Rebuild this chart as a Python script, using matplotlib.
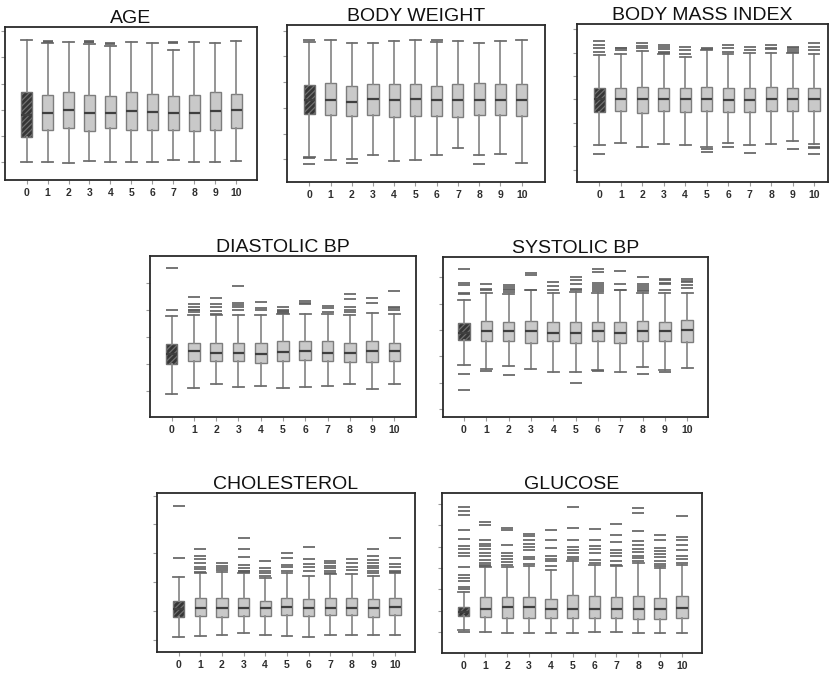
import matplotlib
matplotlib.use("Agg")
import matplotlib.pyplot as plt

plt.rcParams["font.family"] = ["Liberation Sans", "DejaVu Sans"]
plt.rcParams["hatch.linewidth"] = 0.9

GROUPS = [str(i) for i in range(11)]

# ---- AGE (years) ----
AGE_LO = [20.0, 20.3, 19.9, 20.6, 20.3, 20.3, 20.3, 20.9, 20.3, 20.3, 20.5]
AGE_Q1 = [29.5, 32.5, 32.9, 31.9, 32.9, 32.5, 32.3, 32.5, 31.9, 32.5, 32.9]
AGE_MED = [38.0, 38.9, 39.9, 38.9, 38.9, 39.6, 39.2, 38.9, 38.9, 39.6, 39.9]
AGE_Q3 = [46.8, 45.8, 46.8, 45.6, 45.3, 46.8, 46.2, 45.2, 45.8, 46.6, 46.2]
AGE_HI = [66.5, 65.6, 65.8, 65.2, 64.2, 65.8, 65.4, 62.9, 65.8, 65.4, 66.2]
AGE_OUT = [[], [65.9, 66.1], [], [65.7, 65.9, 66.1], [64.9, 65.6], [], [],
           [65.6, 65.8], [], [], []]

# ---- BODY WEIGHT (kg) ----
BW_LO = [50.9, 49.6, 50.3, 51.8, 49.2, 49.6, 51.6, 54.4, 51.6, 52.2, 48.7]
BW_Q1 = [67.8, 67.4, 66.9, 67.4, 66.5, 66.9, 66.9, 66.5, 67.4, 67.4, 66.9]
BW_MED = [73.0, 73.2, 72.3, 73.4, 73.0, 73.6, 73.0, 73.0, 73.0, 73.0, 73.0]
BW_Q3 = [78.8, 79.5, 78.6, 79.2, 79.2, 79.1, 78.6, 79.1, 79.5, 79.2, 79.2]
BW_HI = [95.7, 96.4, 95.3, 95.1, 96.1, 96.4, 95.7, 96.1, 95.3, 96.1, 96.4]
BW_OUT = [[96.2, 50.5, 48.3], [], [48.6], [], [], [], [96.4], [], [48.3], [], []]

# ---- BODY MASS INDEX ----
BMI_LO = [20.2, 20.8, 19.9, 20.6, 20.2, 19.9, 20.7, 20.2, 20.6, 21.1, 20.4]
BMI_Q1 = [27.4, 27.5, 27.1, 27.5, 27.4, 27.5, 27.4, 27.4, 27.5, 27.5, 27.5]
BMI_MED = [30.1, 30.1, 30.0, 30.0, 30.0, 30.1, 29.9, 29.9, 30.0, 30.0, 30.1]
BMI_Q3 = [32.4, 32.4, 32.6, 32.4, 32.4, 32.6, 32.4, 32.4, 32.6, 32.4, 32.4]
BMI_HI = [39.5, 39.6, 40.4, 39.6, 39.1, 40.6, 39.6, 39.9, 39.9, 39.9, 39.7]
BMI_OUT = [[40.2, 40.9, 41.6, 42.4, 18.4],
           [40.6, 40.9, 41.0],
           [40.9, 41.5, 42.0],
           [40.0, 40.2, 40.7, 41.3, 41.6],
           [39.8, 40.6, 41.3],
           [40.7, 40.9, 19.4, 18.8],
           [40.2, 40.9, 41.6, 19.9],
           [40.6, 41.3, 18.6],
           [40.7, 40.9, 41.6],
           [40.2, 40.6, 40.9, 41.3, 19.5],
           [40.6, 41.1, 42.0, 19.9, 19.6, 18.4]]

# ---- DIASTOLIC BP (mmHg) ----
DBP_LO = [49.0, 51.2, 52.7, 51.5, 51.9, 51.2, 51.5, 51.9, 52.7, 50.6, 52.7]
DBP_Q1 = [59.9, 61.0, 61.0, 61.0, 60.4, 61.0, 61.4, 61.0, 60.7, 60.7, 61.0]
DBP_MED = [63.8, 64.7, 64.2, 64.2, 63.6, 64.4, 64.7, 64.1, 64.2, 64.8, 64.8]
DBP_Q3 = [67.5, 67.9, 67.8, 67.9, 67.8, 68.4, 68.4, 68.4, 67.8, 68.4, 67.9]
DBP_HI = [77.8, 78.0, 78.0, 78.0, 78.0, 78.6, 78.6, 78.6, 78.0, 79.0, 78.3]
DBP_OUT = [[80.1, 95.3],
           [79.3, 79.9, 80.1, 80.9, 82.1, 84.6],
           [78.6, 79.6, 80.9, 82.3, 84.2],
           [79.9, 80.9, 81.7, 82.6, 88.8],
           [80.1, 80.6, 83.0],
           [78.9, 79.1, 79.4, 79.6, 80.1, 80.9],
           [82.1, 82.7, 83.3],
           [79.3, 80.5, 81.5],
           [79.3, 80.1, 80.9, 84.0, 86.0],
           [82.7, 84.2],
           [79.9, 80.5, 81.1, 86.9]]

# ---- SYSTOLIC BP (mmHg) ----
SBP_LO = [113.2, 110.6, 112.4, 110.6, 108.1, 108.1, 109.4, 108.1, 111.9, 109.9, 111.4]
SBP_Q1 = [132.2, 131.6, 131.6, 130.4, 131.6, 130.4, 131.4, 130.1, 131.4, 131.6, 130.9]
SBP_MED = [138.0, 139.0, 139.0, 139.0, 138.0, 137.7, 139.0, 137.7, 139.0, 139.0, 139.8]
SBP_Q3 = [145.6, 146.6, 146.1, 146.6, 146.1, 146.1, 146.1, 146.1, 146.6, 146.1, 147.3]
SBP_HI = [163.0, 168.1, 167.1, 170.1, 168.1, 168.9, 168.1, 170.1, 168.1, 168.1, 168.1]
SBP_OUT = [[167.1, 168.1, 173.9, 175.7, 186.1, 106.3, 94.7],
           [170.1, 170.9, 175.2, 108.9],
           [168.6, 170.1, 171.4, 172.7, 173.9, 106.1],
           [170.6, 181.5, 183.3],
           [170.6, 173.2, 176.2],
           [170.1, 171.4, 175.2, 177.7, 180.3, 100.0],
           [169.4, 170.9, 172.7, 174.4, 175.7, 184.1, 186.6, 108.9],
           [170.6, 174.7, 184.6],
           [169.4, 170.6, 171.9, 173.2, 174.7, 180.3, 106.8],
           [170.1, 174.7, 176.0, 177.7, 179.0, 108.1],
           [171.9, 174.4, 176.2, 177.0, 179.0]]

# ---- CHOLESTEROL (mg/dL) ----
CHOL_LO = [109.3, 111.6, 115.1, 123.3, 115.1, 111.6, 109.3, 115.1, 115.1, 115.1, 117.4]
CHOL_Q1 = [179.1, 182.6, 179.1, 182.6, 182.6, 184.9, 182.6, 187.2, 184.9, 179.1, 184.9]
CHOL_MED = [204.7, 211.6, 208.2, 208.2, 208.2, 214.0, 208.2, 210.5, 208.2, 208.2, 214.0]
CHOL_Q3 = [234.9, 243.0, 243.0, 243.0, 234.9, 245.4, 240.7, 243.0, 243.0, 240.7, 245.4]
CHOL_HI = [316.3, 332.6, 336.1, 332.6, 312.8, 332.6, 321.0, 328.0, 328.0, 321.0, 332.6]
CHOL_OUT = [[382.6, 562.9],
            [336.1, 344.2, 353.5, 365.2, 379.1, 390.7, 415.2],
            [341.9, 347.7, 357.0, 367.5],
            [335.0, 337.3, 339.6, 347.7, 359.3, 386.1, 414.0, 454.7],
            [320.9, 330.2, 339.6, 347.7, 374.5],
            [337.3, 351.2, 359.3, 382.6, 402.4],
            [339.6, 351.2, 361.7, 379.1, 421.0],
            [332.6, 339.6, 347.7, 355.9, 365.2, 373.3],
            [341.9, 351.2, 367.5, 379.1],
            [330.2, 339.6, 347.7, 355.9, 367.5, 376.8, 390.7, 414.0],
            [335.0, 337.3, 351.2, 362.8, 384.9, 452.4]]

# ---- GLUCOSE (mg/dL) ----
GLU_LO = [53.9, 49.2, 47.7, 47.7, 47.7, 47.7, 50.0, 49.2, 47.7, 47.7, 47.7]
GLU_Q1 = [86.7, 84.4, 82.8, 82.8, 82.8, 82.8, 82.8, 82.8, 81.3, 81.3, 82.8]
GLU_MED = [96.1, 104.7, 107.8, 107.8, 104.7, 104.7, 104.7, 104.7, 104.7, 104.7, 106.3]
GLU_Q3 = [108.6, 131.3, 131.3, 131.3, 128.1, 137.5, 133.6, 131.3, 135.2, 129.7, 133.6]
GLU_HI = [143.0, 202.3, 202.3, 203.9, 196.1, 215.6, 207.8, 205.5, 211.7, 200.0, 207.8]
GLU_OUT = [[150.8, 155.5, 170.3, 176.6, 184.4, 202.3, 228.9, 235.2, 244.5,
            250.8, 268.0, 288.3, 325.0, 332.8, 343.0, 49.2],
           [205.5, 207.8, 211.7, 219.5, 227.3, 235.2, 244.5, 250.8, 257.0,
            266.4, 301.6, 307.0],
           [207.8, 213.3, 221.1, 228.9, 235.2, 253.1, 288.3, 293.8],
           [210.2, 221.1, 225.8, 243.0, 249.2, 257.0, 266.4, 274.2, 280.5],
           [205.5, 215.6, 221.1, 228.9, 246.9, 266.4, 289.8],
           [221.1, 225.8, 235.2, 243.0, 249.2, 264.8, 293.8, 343.0],
           [211.7, 219.5, 235.2, 244.5, 250.8, 264.8, 291.4],
           [207.8, 215.6, 227.3, 235.2, 243.0, 260.2, 278.1, 303.9],
           [215.6, 223.4, 228.9, 236.7, 244.5, 254.7, 262.5, 285.9, 328.9, 340.6],
           [203.9, 210.2, 215.6, 225.8, 233.6, 239.1, 246.9, 266.4, 278.1],
           [211.7, 221.1, 228.9, 243.0, 254.7, 264.8, 272.7, 321.1]]

# ---- layout (pixel boxes in an 830x673 canvas) ----
W, H = 830, 673
fig = plt.figure(figsize=(W / 100, H / 100), dpi=100)


def px_rect(left, top, right, bottom):
    return [left / W, (H - bottom) / H, (right - left) / W, (bottom - top) / H]


BOX_W = 0.52
LIGHT = "#c9c9c9"
EDGE = "#7d7d7d"
DARK = "#353535"


def draw_panel(rect, title, lo, q1, med, q3, hi, out, yticks, ylim, xlim):
    ax = fig.add_axes(rect)
    stats = [dict(whislo=a, q1=b, med=c, q3=d, whishi=e, fliers=f, label=g)
             for a, b, c, d, e, f, g in zip(lo, q1, med, q3, hi, out, GROUPS)]
    # dash length of outliers = box width, in points
    px_per_unit = rect[2] * W / (xlim[1] - xlim[0])
    dash = BOX_W * px_per_unit * 0.72
    bp = ax.bxp(stats, positions=range(len(GROUPS)), widths=BOX_W,
                capwidths=BOX_W * 0.95, patch_artist=True,
                boxprops=dict(facecolor=LIGHT, edgecolor=EDGE, linewidth=1.0),
                whiskerprops=dict(color="#8c8c8c", linewidth=1.3),
                capprops=dict(color="#6f6f6f", linewidth=1.3),
                medianprops=dict(color="#3f3f3f", linewidth=1.6),
                flierprops=dict(marker="_", markersize=dash,
                                markeredgecolor="#5e5e5e", markeredgewidth=1.2))
    first = bp["boxes"][0]
    first.set_facecolor(DARK)
    first.set_edgecolor("#707070")
    first.set_hatch("//////")
    ax.set_xlim(*xlim)
    ax.set_ylim(*ylim)
    ax.set_yticks(yticks)
    ax.set_yticklabels([])
    ax.tick_params(axis="y", length=3, width=0.8, color="#9a9a9a")
    ax.tick_params(axis="x", length=3, width=0.8, color="#9a9a9a", pad=3,
                   labelsize=7.5, labelcolor="#2e2e2e")
    for lab in ax.get_xticklabels():
        lab.set_fontweight("bold")
    for sp in ax.spines.values():
        sp.set_color("#2a2a2a")
        sp.set_linewidth(1.3)
    ax.set_title(title, fontsize=14, pad=3, color="#111111")
    return ax


draw_panel(px_rect(5, 27, 257, 180), "AGE",
           AGE_LO, AGE_Q1, AGE_MED, AGE_Q3, AGE_HI, AGE_OUT,
           [20, 30, 40, 50, 60, 70], (13.3, 71.5), (-1.03, 10.99))
draw_panel(px_rect(287, 25, 545, 182), "BODY WEIGHT",
           BW_LO, BW_Q1, BW_MED, BW_Q3, BW_HI, BW_OUT,
           [50, 60, 70, 80, 90, 100], (41.2, 102.2), (-1.05, 11.1))
draw_panel(px_rect(577, 24, 828, 182), "BODY MASS INDEX",
           BMI_LO, BMI_Q1, BMI_MED, BMI_Q3, BMI_HI, BMI_OUT,
           [15, 20, 25, 30, 35, 40, 45], (12.4, 46.1), (-1.04, 10.65))
draw_panel(px_rect(150, 256, 416, 417), "DIASTOLIC BP",
           DBP_LO, DBP_Q1, DBP_MED, DBP_Q3, DBP_HI, DBP_OUT,
           [50, 60, 70, 80, 90], (40.4, 99.9), (-0.97, 10.97))
draw_panel(px_rect(443, 257, 708, 417), "SYSTOLIC BP",
           SBP_LO, SBP_Q1, SBP_MED, SBP_Q3, SBP_HI, SBP_OUT,
           [80, 100, 120, 140, 160, 180], (73.9, 195.5), (-0.94, 10.93))
draw_panel(px_rect(157, 493, 415, 652), "CHOLESTEROL",
           CHOL_LO, CHOL_Q1, CHOL_MED, CHOL_Q3, CHOL_HI, CHOL_OUT,
           [100, 200, 300, 400, 500, 600], (57.0, 609.4), (-1.0, 10.92))
draw_panel(px_rect(442, 493, 702, 653), "GLUCOSE",
           GLU_LO, GLU_Q1, GLU_MED, GLU_Q3, GLU_HI, GLU_OUT,
           [50, 100, 150, 200, 250, 300, 350], (0.8, 375.8), (-0.99, 10.92))

fig.savefig("out.png", dpi=100)
